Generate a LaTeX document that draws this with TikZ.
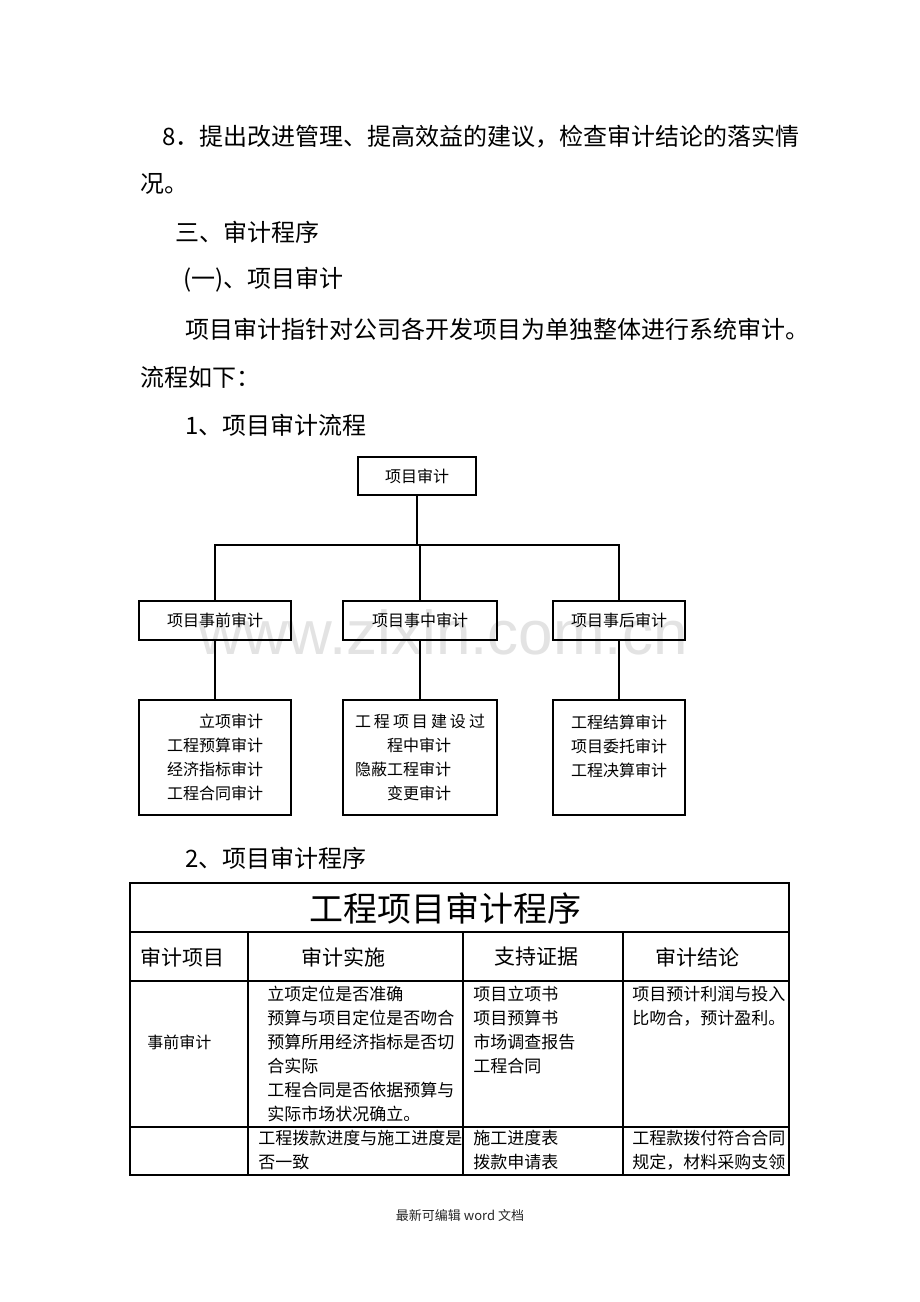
\documentclass[tikz,border=0pt]{standalone}
\usepackage{fontspec}
\setmainfont{Noto Sans CJK SC}
\newfontfamily\wmfont{Liberation Sans}
\usetikzlibrary{positioning}
\tikzset{
  para/.style={anchor=west, inner sep=0pt, font=\fontsize{12}{12}\selectfont},
  chartbox/.style={draw, line width=0.7pt, inner sep=0pt, font=\fontsize{8}{12}\selectfont},
  headcell/.style={anchor=west, inner sep=0pt, font=\fontsize{10.5}{12}\selectfont},
  cell/.style={anchor=north west, inner sep=0pt, align=left, font=\fontsize{8.5}{12}\selectfont},
  rule/.style={line width=0.6pt}
}
\begin{document}
\begin{tikzpicture}[x=0.5pt,y=-0.5pt]
    \useasboundingbox[fill=white] (0,0) rectangle (920,1302);
    \node[text=black!11, font=\wmfont\fontsize{31}{31}\selectfont] (wm) at (443,632) {www.zixin.com.cn};
    \node[para] (item8) at (162,137) {8．提出改进管理、提高效益的建议，检查审计结论的落实情};
    \node[para] (item8b) at (140,184) {况。};
    \node[para] (sec3) at (175,232) {三、审计程序};
    \node[para] (sub1) at (183,280) {(一)、项目审计};
    \node[para] (intro) at (185,329) {项目审计指针对公司各开发项目为单独整体进行系统审计。};
    \node[para] (introb) at (140,377) {流程如下：};
    \node[para] (flowtitle) at (185,425) {1、项目审计流程};

    \node[chartbox, minimum width=59pt, minimum height=19pt] (audit) at (417,476) {项目审计};
    \node[chartbox, minimum width=76pt, minimum height=19.5pt] (pre) at (215,620.5) {项目事前审计};
    \node[chartbox, minimum width=77pt, minimum height=19.5pt] (mid) at (420,620.5) {项目事中审计};
    \node[chartbox, minimum width=66pt, minimum height=19.5pt] (post) at (619,620.5) {项目事后审计};
    \node[chartbox, minimum width=76pt, minimum height=57.5pt, align=right] (prelist) at (215,757.5)
        {立项审计\\工程预算审计\\经济指标审计\\工程合同审计};
    \node[chartbox, minimum width=77pt, minimum height=57.5pt, align=left] (midlist) at (420,757.5)
        {\makebox[65pt][s]{工 程 项 目 建 设 过}\\\hspace*{2em}程中审计\\隐蔽工程审计\\\hspace*{2em}变更审计};
    \node[chartbox, minimum width=66pt, minimum height=57.5pt, align=left] (postlist) at (619,757.5)
        {工程结算审计\\项目委托审计\\工程决算审计\\\mbox{}};
    \coordinate (bus) at (417,545);
    \draw[line width=0.7pt] (audit.south) -- (audit.south |- bus);
    \draw[line width=0.7pt] (pre.north) |- (bus) -| (post.north);
    \draw[line width=0.7pt] (mid.north) -- (mid.north |- bus);
    \draw[line width=0.7pt] (pre.south) -- (prelist.north);
    \draw[line width=0.7pt] (mid.south) -- (midlist.north);
    \draw[line width=0.7pt] (post.south) -- (postlist.north);

    \node[para] (tabletitle) at (185,858) {2、项目审计程序};
    \draw[rule] (130,883) rectangle (789,1175);
    \draw[rule] (130,932) -- (789,932);
    \draw[rule] (130,981) -- (789,981);
    \draw[rule] (130,1127) -- (789,1127);
    \foreach \x in {248,463,623}
        \draw[rule] (\x,932) -- (\x,1175);
    \node[inner sep=0pt, font=\fontsize{17}{17}\selectfont] (proc) at (445,908) {工程项目审计程序};
    \node[headcell] (h1) at (140,957) {审计项目};
    \node[headcell] (h2) at (301,957) {审计实施};
    \node[headcell] (h3) at (494,957) {支持证据};
    \node[headcell] (h4) at (655,957) {审计结论};
    \node[anchor=west, inner sep=0pt, font=\fontsize{8}{12}\selectfont] (pre2) at (147,1042) {事前审计};
    \node[cell] (pre2do) at (267,986) {立项定位是否准确\\预算与项目定位是否吻合\\预算所用经济指标是否切\\合实际\\工程合同是否依据预算与\\实际市场状况确立。};
    \node[cell] (pre2ev) at (473,986) {项目立项书\\项目预算书\\市场调查报告\\工程合同};
    \node[cell] (pre2re) at (632,986) {项目预计利润与投入\\比吻合，预计盈利。};
    \node[cell] (mid2do) at (258,1130) {工程拨款进度与施工进度是\\否一致};
    \node[cell] (mid2ev) at (473,1130) {施工进度表\\拨款申请表};
    \node[cell] (mid2re) at (632,1130) {工程款拨付符合合同\\规定，材料采购支领};

    \node[inner sep=0pt, text=black!85, font=\fontsize{6.5}{8}\selectfont] (footer) at (460,1215) {最新可编辑 word 文档};
\end{tikzpicture}
\end{document}
